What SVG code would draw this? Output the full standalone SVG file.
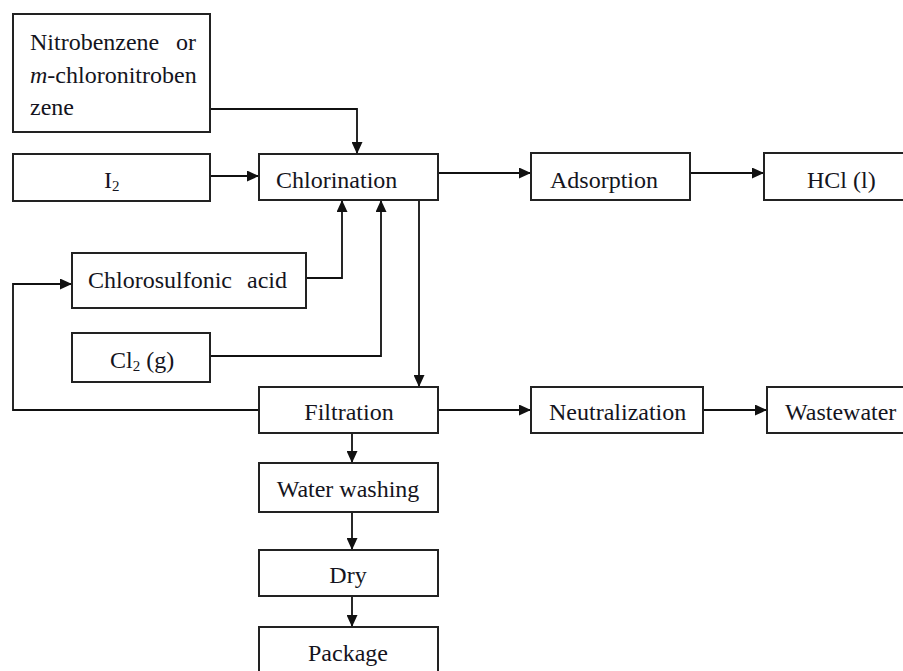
<svg xmlns="http://www.w3.org/2000/svg" width="903" height="671" viewBox="0 0 903 671">
<style>
.box{fill:#fff;stroke:#222;stroke-width:2}
.t{font-family:"Liberation Serif","Times New Roman",serif;font-size:24px;fill:#141420}
.sub{font-size:15px}
.c{fill:none;stroke:#111;stroke-width:1.8}
</style>
<defs>
<marker id="ah" markerUnits="userSpaceOnUse" markerWidth="12" markerHeight="11" refX="12" refY="5.5" orient="auto">
<path d="M0,0 L12,5.5 L0,11 z" fill="#111"/>
</marker>
</defs>
<rect width="903" height="671" fill="#fff"/>
<g id="connectors">
<path class="c" d="M210,109 H357 V154" marker-end="url(#ah)"/>
<path class="c" d="M210,176 H259" marker-end="url(#ah)"/>
<path class="c" d="M438,173 H531" marker-end="url(#ah)"/>
<path class="c" d="M690,173 H764" marker-end="url(#ah)"/>
<path class="c" d="M306,278 H342 V200" marker-end="url(#ah)"/>
<path class="c" d="M210,356 H381 V200" marker-end="url(#ah)"/>
<path class="c" d="M419,200 V387" marker-end="url(#ah)"/>
<path class="c" d="M438,410 H531" marker-end="url(#ah)"/>
<path class="c" d="M703,410 H767" marker-end="url(#ah)"/>
<path class="c" d="M259,410 H13 V284 H72" marker-end="url(#ah)"/>
<path class="c" d="M352,433 V463" marker-end="url(#ah)"/>
<path class="c" d="M352,512 V550" marker-end="url(#ah)"/>
<path class="c" d="M352,596 V627" marker-end="url(#ah)"/>
</g>
<g id="nitrobenzene">
<rect class="box" x="13" y="14" width="197" height="118"/>
<text class="t" x="30" y="50">Nitrobenzene</text>
<text class="t" x="196" y="50" text-anchor="end">or</text>
<text class="t" x="30" y="83"><tspan font-style="italic">m</tspan>-chloronitroben</text>
<text class="t" x="30" y="115">zene</text>
</g>
<g id="i2">
<rect class="box" x="13" y="154" width="197" height="47"/>
<text class="t" x="104" y="188">I<tspan class="sub" dy="3">2</tspan></text>
</g>
<g id="chlorination">
<rect class="box" x="259" y="154" width="179" height="46"/>
<text class="t" x="276" y="188">Chlorination</text>
</g>
<g id="adsorption">
<rect class="box" x="531" y="153" width="159" height="47"/>
<text class="t" x="550" y="188">Adsorption</text>
</g>
<g id="hcl">
<rect class="box" x="764" y="153" width="150" height="47"/>
<text class="t" x="807" y="188">HCl (l)</text>
</g>
<g id="chlorosulfonic">
<rect class="box" x="72" y="253" width="234" height="55"/>
<text class="t" x="88" y="288">Chlorosulfonic</text>
<text class="t" x="287" y="288" text-anchor="end">acid</text>
</g>
<g id="cl2">
<rect class="box" x="72" y="333" width="138" height="49"/>
<text class="t" x="110" y="368">Cl<tspan class="sub" dy="3">2</tspan><tspan dy="-3"> (g)</tspan></text>
</g>
<g id="filtration">
<rect class="box" x="259" y="387" width="179" height="46"/>
<text class="t" x="349" y="420" text-anchor="middle">Filtration</text>
</g>
<g id="neutralization">
<rect class="box" x="531" y="387" width="172" height="46"/>
<text class="t" x="549" y="420">Neutralization</text>
</g>
<g id="wastewater">
<rect class="box" x="767" y="387" width="150" height="46"/>
<text class="t" x="785" y="420">Wastewater</text>
</g>
<g id="waterwashing">
<rect class="box" x="259" y="463" width="179" height="49"/>
<text class="t" x="348" y="497" text-anchor="middle">Water washing</text>
</g>
<g id="dry">
<rect class="box" x="259" y="550" width="179" height="46"/>
<text class="t" x="348" y="583" text-anchor="middle">Dry</text>
</g>
<g id="package">
<rect class="box" x="259" y="627" width="179" height="60"/>
<text class="t" x="348" y="661" text-anchor="middle">Package</text>
</g>
</svg>
